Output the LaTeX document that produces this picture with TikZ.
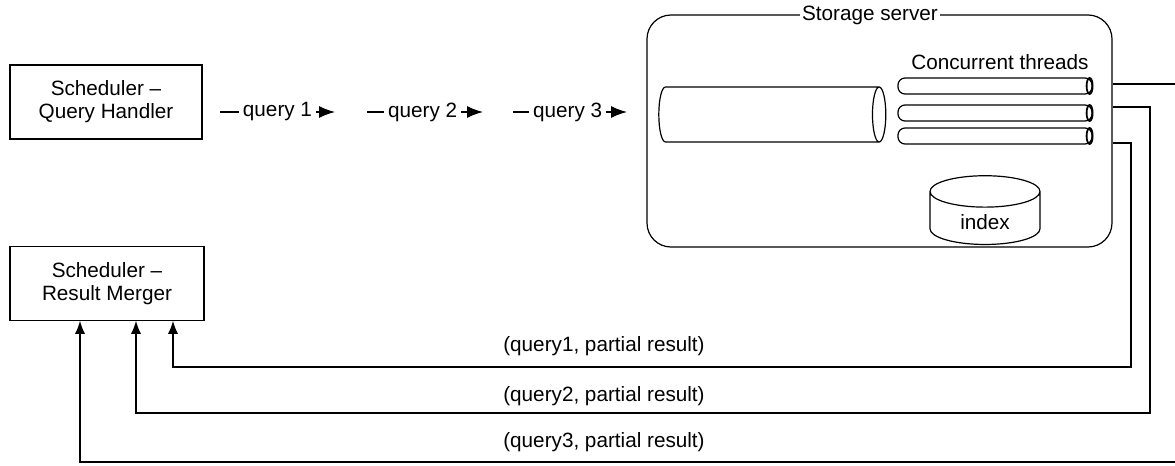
\documentclass[tikz,border=0pt]{standalone}
\usepackage{fontspec}
\setmainfont{Liberation Sans}
\usetikzlibrary{positioning,shapes.geometric,arrows.meta}

\tikzset{
  schedbox/.style={draw, line width=0.6pt, align=center, minimum width=96pt, minimum height=37pt},
  qarrow/.style={line width=0.6pt, -{Latex[length=8pt,width=6pt]}},
  qlabel/.style={fill=white, inner xsep=2pt, inner ysep=1pt},
  retline/.style={line width=0.6pt, -{Latex[length=6.5pt,width=5pt]}},
  thread/.style={draw, line width=0.6pt, rounded corners=3.5pt, minimum width=97pt, minimum height=8pt, inner sep=0pt},
  threadend/.style={line width=0.9pt},
}

\begin{document}
\begin{tikzpicture}[x=0.5pt, y=-0.5pt, font=\fontsize{10.35}{11.5}\selectfont]
\useasboundingbox (0,0) rectangle (1175,466);

% schedulers
\node (handler) [schedbox] at (106,102) {Scheduler --\\Query Handler};
\node (merger) [schedbox, minimum width=97pt, below=53pt of handler.south west, anchor=north west] {Scheduler --\\Result Merger};

% storage server
\node (srv) [draw, line width=0.6pt, rounded corners=12pt, minimum width=232.5pt, minimum height=116pt] at (879.5,131) {};
\node (srvtitle) [fill=white, inner xsep=1pt, inner ysep=0pt] at (870,15) {Storage server};
\node (queue) [cylinder, draw, line width=0.6pt, aspect=1, minimum width=27.5pt, minimum height=113.5pt] at (766.5,114.5) {};
\node (t1) [thread] at (995,86) {};
\node (t2) [thread] at (995,113) {};
\node (t3) [thread] at (995,136) {};
\foreach \t in {t1,t2,t3}
  \draw [threadend] ([xshift=-1.5pt]\t.east) ellipse (1.5pt and 4pt);
\node (threads) at (1000,62) {Concurrent threads};
\node (index) [cylinder, draw, line width=0.6pt, shape border rotate=90, aspect=0.5, minimum width=55pt, minimum height=32.5pt] at (985,222) {index};

% queries
\coordinate (q1a) at (220,112);
\coordinate (q1b) at (335,112);
\coordinate (q2a) at (367,112);
\coordinate (q2b) at (483,112);
\coordinate (q3a) at (513,112);
\coordinate (q3b) at (627,112);
\draw [qarrow] (q1a) -- (q1b) node [qlabel, pos=0.5] {query 1};
\draw [qarrow] (q2a) -- (q2b) node [qlabel, pos=0.48] {query 2};
\draw [qarrow] (q3a) -- (q3b) node [qlabel, pos=0.48] {query 3};

% partial results
\coordinate (r1) at (srv.east |- 0,143);
\coordinate (r2) at (srv.east |- 0,107);
\coordinate (r3) at (srv.east |- 0,84);
\draw [retline] (r1) -| (1131,367) -| (merger.south -| 173,0);
\draw [retline] (r2) -| (1150,413) -| (merger.south -| 136,0);
\draw [retline] (r3) -| (1190,462) -| (merger.south -| 80,0);
\node (res1) at (604,346) {(query1, partial result)};
\node (res2) at (604,396) {(query2, partial result)};
\node (res3) at (604,442) {(query3, partial result)};
\end{tikzpicture}
\end{document}
